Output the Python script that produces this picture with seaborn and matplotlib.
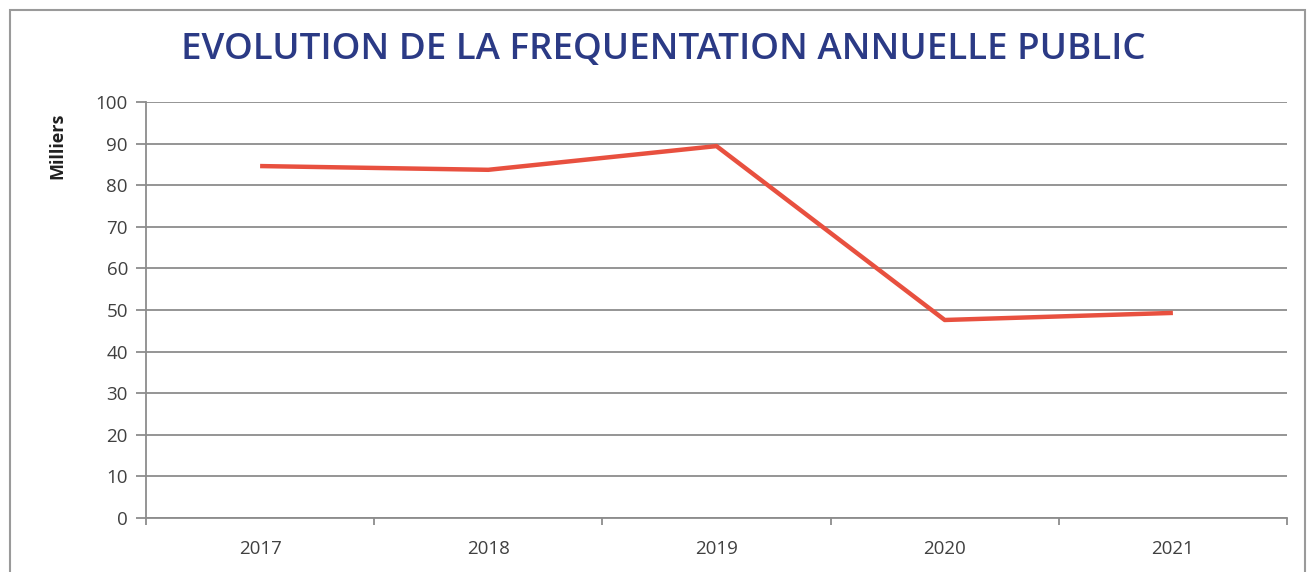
import matplotlib
matplotlib.use("Agg")
import matplotlib.pyplot as plt
import seaborn as sns
import pandas as pd
import numpy as np
from matplotlib.patches import Rectangle

years = ["2017", "2018", "2019", "2020", "2021"]
visitors = [84.6, 83.7, 89.4, 47.6, 49.3]
yticks = [0, 10, 20, 30, 40, 50, 60, 70, 80, 90, 100]
title = "EVOLUTION DE LA FREQUENTATION ANNUELLE PUBLIC"
ylabel = "Milliers"

sns.set_theme(style="white")
plt.rcParams['font.family'] = ['Open Sans', 'DejaVu Sans']

df = pd.DataFrame({"year": years, "value": visitors})

fig = plt.figure(figsize=(13.15, 5.72), dpi=100)
ax = fig.add_axes([146/1315, (572-518)/572, (1287-146)/1315, (518-102)/572])

sns.lineplot(data=df, x="year", y="value", ax=ax, color="#e8503f", linewidth=3.2,
             sort=False, solid_capstyle="butt")

ax.set_xlim(-0.5, len(years) - 0.5)
ax.set_ylim(0, 100)
ax.set_yticks(yticks)
ax.set_yticklabels([str(v) for v in yticks])
ax.yaxis.grid(True, color="#8c8c8c", linewidth=1.3)
ax.set_axisbelow(True)

for s in ["top", "right"]:
    ax.spines[s].set_visible(False)
for s in ["left", "bottom"]:
    ax.spines[s].set_color("#8c8c8c")
    ax.spines[s].set_linewidth(1.3)

ax.set_xticks(range(len(years)))
ax.set_xticklabels(years)
ax.set_xticks(np.arange(-0.5, len(years), 1.0), minor=True)
ax.tick_params(axis="x", which="major", length=0, pad=16, labelsize=13.5, labelcolor="#404040")
ax.tick_params(axis="x", which="minor", length=5, width=1.3, color="#8c8c8c", direction="out", bottom=True)
ax.tick_params(axis="y", which="major", length=7, width=1.3, color="#8c8c8c", direction="out",
               left=True, pad=6, labelsize=13.5, labelcolor="#404040")

ax.set_xlabel("")
ax.set_ylabel(ylabel, fontsize=13, fontweight="bold", color="#202020", va="center")
ax.yaxis.set_label_coords(-0.078, 0.894)

fig.text(663/1315, 1 - 50/572, title, ha="center", va="center",
         fontsize=26.5, fontweight="semibold", color="#2b3a85", family=["Open Sans", "DejaVu Sans"])

fig.patches.append(Rectangle((10/1315, -0.1), (1305-10)/1315, (572-10)/572 + 0.1,
                             transform=fig.transFigure, fill=False,
                             edgecolor="#9a9a9a", linewidth=1.5))

fig.savefig("out.png", dpi=100, facecolor="white")
